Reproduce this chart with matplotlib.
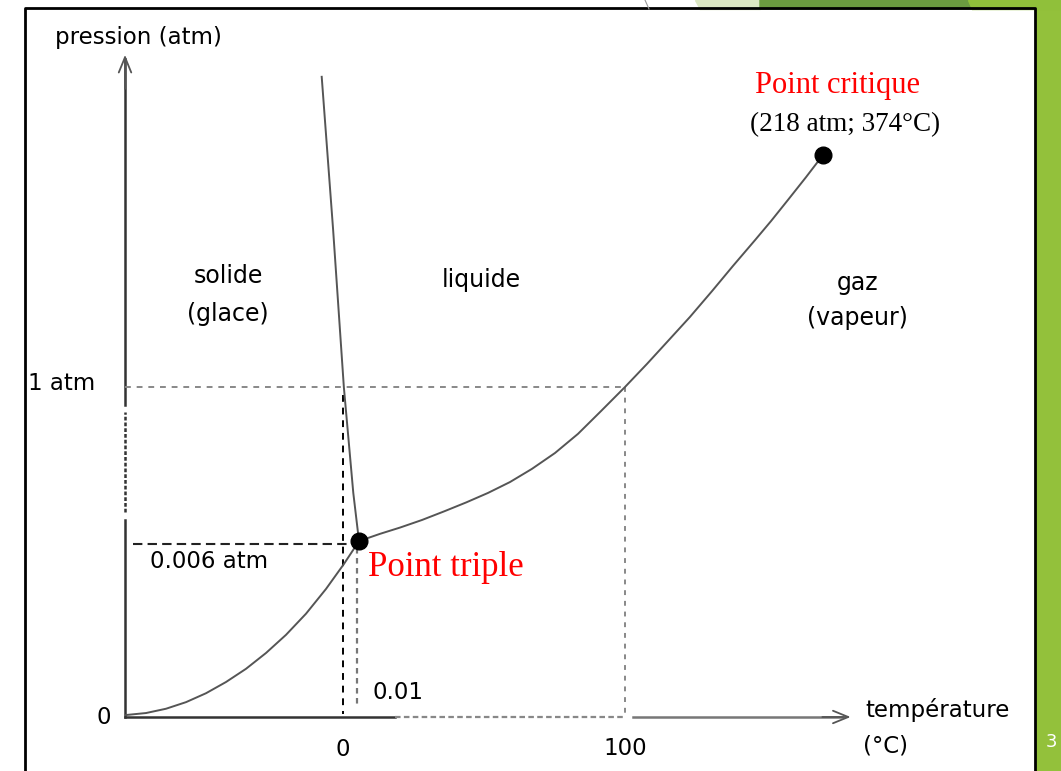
"""
Diagramme de phases de l'eau (schéma, échelle non linéaire).
"""

import matplotlib
matplotlib.use("Agg")
import matplotlib.pyplot as plt
from matplotlib.patches import Polygon, Rectangle

# Positions schématiques : 0 et 100 °C en abscisse, 0 et 1 atm en ordonnée
# (les autres points sont placés comme sur le schéma, pas à l'échelle)
sublimation_t = [-76.95, -69.86, -62.77, -55.67, -48.58, -41.49, -34.40,
                 -27.30, -20.21, -13.12, -6.03, 0.35, 5.67]
sublimation_p = [0.006, 0.012, 0.025, 0.045, 0.072, 0.106, 0.146,
                 0.194, 0.249, 0.313, 0.388, 0.464, 0.533]

fusion_t = [5.67, 3.65, 0.3, -3.5, -7.55]
fusion_p = [0.533, 0.679, 1.0, 1.476, 1.940]

vaporisation_t = [5.67, 13.12, 20.21, 28.01, 35.82, 43.62, 51.42, 59.22,
                  67.02, 75.18, 83.33, 91.49, 100.0, 107.8, 115.2, 123.0,
                  130.9, 138.3, 146.1, 151.8, 157.8, 164.2, 170.2]
vaporisation_p = [0.533, 0.555, 0.574, 0.597, 0.623, 0.650, 0.679, 0.712,
                  0.752, 0.800, 0.858, 0.927, 1.000, 1.070, 1.139, 1.212,
                  1.291, 1.367, 1.445, 1.503, 1.567, 1.636, 1.703]

triple_t, triple_p = 5.67, 0.533
critique_t, critique_p = 170.2, 1.703
ebullition_t, atm_p = 100.0, 1.0
axe_t0, axe_t1 = -77.3, 181.0
axe_p1 = 2.015

regions = ["solide\n(glace)", "liquide", "gaz\n(vapeur)"]

# Conversion px -> unités du schéma
X0, XS = 343, 2.82
Y0, YS = 717, 330

fig = plt.figure(figsize=(10.61, 7.71), dpi=100)

# Fond de diapositive (cadre + bande verte)
deco = fig.add_axes([0, 0, 1, 1], zorder=0)
deco.set_xlim(0, 1061)
deco.set_ylim(771, 0)
deco.axis("off")
deco.add_patch(Rectangle((1036, 0), 25, 771, color="#93c13b"))
deco.add_patch(Polygon([(695, 0), (760, 0), (760, 9), (700, 9)], color="#dce8c4"))
deco.add_patch(Polygon([(760, 0), (968, 0), (972, 9), (760, 9)], color="#6b9b40"))
deco.add_patch(Polygon([(968, 0), (1061, 0), (1061, 9), (972, 9)], color="#90c03a"))
deco.plot([25, 25, 1035, 1035], [771, 8, 8, 771], color="black", lw=2)
deco.plot([645, 649], [0, 9], color="#999999", lw=0.8)
deco.text(1046, 742, "3", color="white", fontsize=13, ha="left", va="center")

ax = fig.add_axes([0, 0, 1, 1], zorder=1)
ax.patch.set_alpha(0)
ax.set_xlim(-X0 / XS, (1061 - X0) / XS)
ax.set_ylim((Y0 - 771) / YS, Y0 / YS)
ax.axis("off")

# Axes avec coupure
axe = "#333333"
fleche = dict(arrowstyle="->,head_length=1.1,head_width=0.45", color="#555555", lw=1.3)
ax.plot([axe_t0, axe_t0], [0.945, axe_p1 - 0.02], color=axe, lw=1.8)
ax.plot([axe_t0, axe_t0], [0.62, 0.925], color=axe, lw=1.8, ls=(0, (1.5, 0.8)))
ax.plot([axe_t0, axe_t0], [0, 0.597], color=axe, lw=1.8)
ax.annotate("", xy=(axe_t0, axe_p1), xytext=(axe_t0, axe_p1 - 0.12), arrowprops=fleche)
ax.plot([axe_t0, 18.4], [0, 0], color=axe, lw=1.8)
ax.plot([18.4, ebullition_t], [0, 0], color="#888888", lw=1.6, ls=(0, (2.5, 1.5)))
ax.plot([102.8, axe_t1 - 4], [0, 0], color="#777777", lw=1.8)
ax.annotate("", xy=(axe_t1, 0), xytext=(axe_t1 - 12, 0), arrowprops=fleche)

# Pointillés de repère
ax.plot([axe_t0, ebullition_t], [atm_p, atm_p], color="#888888", lw=1.4, ls=(0, (3, 3)))
ax.plot([ebullition_t, ebullition_t], [atm_p, 0], color="#888888", lw=1.4, ls=(0, (2.5, 3)))
ax.plot([0, 0], [atm_p - 0.025, 0.01], color="black", lw=1.4, ls=(0, (3.5, 3)))
ax.plot([-74.5, triple_t], [triple_p - 0.008, triple_p - 0.008], color="#222222", lw=1.5,
        ls=(0, (4.5, 2.5)))
ax.plot([triple_t - 0.6, triple_t - 0.6], [triple_p - 0.02, 0.036], color="#777777", lw=1.6,
        ls=(0, (2.5, 2)))

# Courbes d'équilibre
courbe = "#555555"
ax.plot(sublimation_t, sublimation_p, color=courbe, lw=1.4)
ax.plot(fusion_t, fusion_p, color=courbe, lw=1.4)
ax.plot(vaporisation_t, vaporisation_p, color=courbe, lw=1.4)
ax.plot([triple_t, critique_t], [triple_p, critique_p], "o", color="black", ms=12,
        ls="none", zorder=5)

# Textes
sans = dict(family="DejaVu Sans", color="black", fontsize=16.5)
ax.text(-102.1, 2.058, "pression (atm)", ha="left", va="center", **sans)
ax.text(-85, 0.0, "0", ha="center", va="center", **sans)
ax.text(-111.7, 1.012, "1 atm", ha="left", va="center", **sans)
ax.text(-68.4, 0.470, "0.006 atm", ha="left", va="center", **sans)
ax.text(0, -0.10, "0", ha="center", va="center", **sans)
ax.text(ebullition_t, -0.094, "100", ha="center", va="center", **sans)
ax.text(10.3, 0.073, "0.01", ha="left", va="center", **sans)
ax.text(185.1, 0.021, "température", ha="left", va="center", **sans)
ax.text(184.4, -0.088, "(°C)", ha="left", va="center", **sans)

reg = dict(sans, fontsize=17)
ax.text(-40.8, 1.278, regions[0], ha="center", va="center", linespacing=1.75, **reg)
ax.text(48.9, 1.324, regions[1], ha="center", va="center", **reg)
ax.text(182.6, 1.262, regions[2], ha="center", va="center", linespacing=1.6, **reg)

serif = dict(family="Liberation Serif", color="red")
ax.text(175.5, 1.915, "Point critique", ha="center", va="center", fontsize=22, **serif)
ax.text(178, 1.794, "(218 atm; 374°C)", ha="center", va="center", fontsize=19.5,
        family="Liberation Serif", color="black")
ax.text(8.9, 0.452, "Point triple", ha="left", va="center", fontsize=25, **serif)

fig.savefig("out.png", dpi=100)
